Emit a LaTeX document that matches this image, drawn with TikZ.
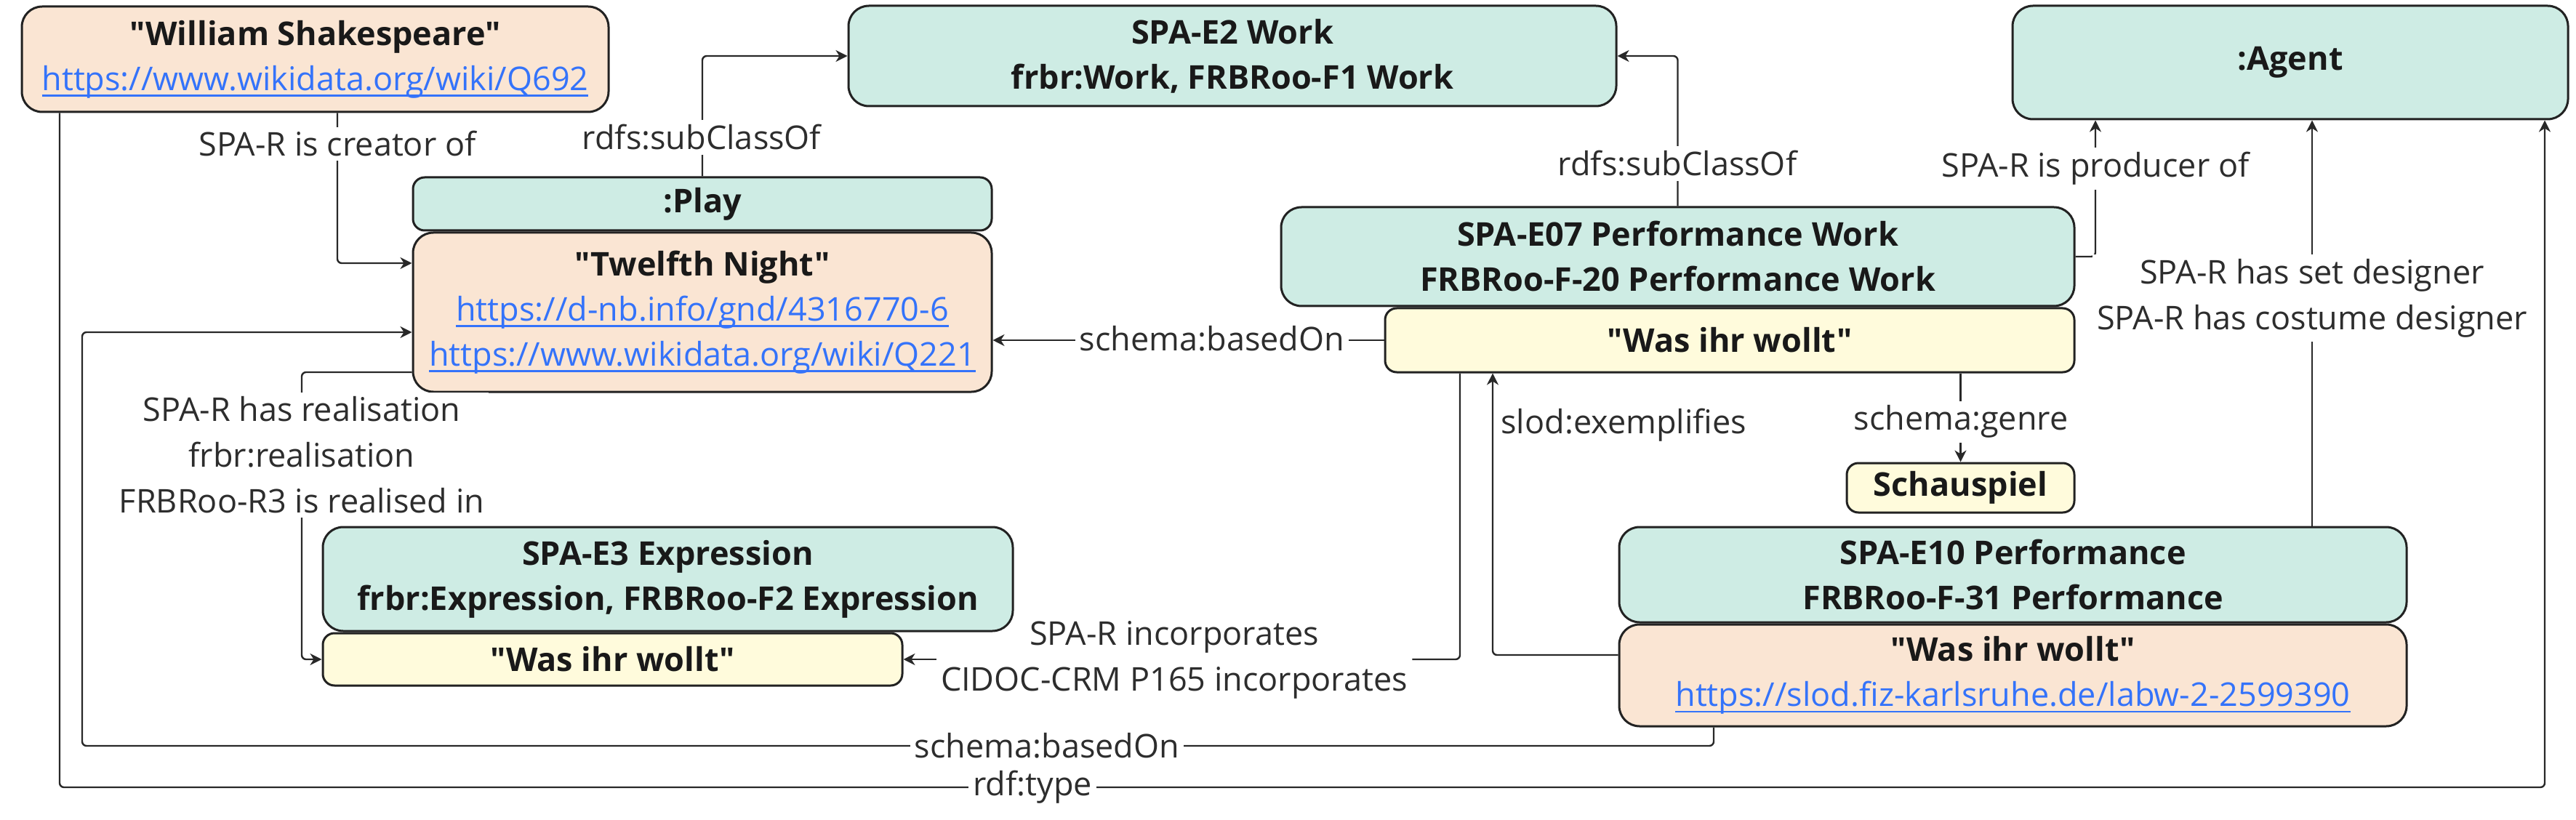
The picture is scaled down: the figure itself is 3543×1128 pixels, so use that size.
\documentclass[tikz,border=0pt]{standalone}
\usepackage{fontspec}
\setmainfont{Open Sans}[Ligatures=TeXOff]
\usetikzlibrary{arrows.meta}
\definecolor{boxteal}{RGB}{206,236,228}
\definecolor{boxpeach}{RGB}{250,229,211}
\definecolor{boxyellow}{RGB}{255,251,220}
\definecolor{boxline}{RGB}{34,34,34}
\definecolor{linegray}{RGB}{40,40,40}
\definecolor{labelgray}{RGB}{45,45,45}
\definecolor{textdark}{RGB}{25,25,25}
\definecolor{linkblue}{RGB}{52,115,250}
\newsavebox{\lnkbox}
\newcommand{\lnk}[1]{{\mdseries\color{linkblue}\sbox{\lnkbox}{#1}\rlap{\rule[-4.4pt]{\wd\lnkbox}{1.4pt}}\usebox{\lnkbox}}}
\newcommand{\bxf}{\fontsize{22.5}{31}\selectfont\bfseries}
\newcommand{\lbf}{\fontsize{22.5}{31.5}\selectfont}
\tikzset{
  box/.style={draw=boxline, line width=1.5pt, rounded corners=14pt, inner sep=0pt, align=center, font=\bxf, text=textdark},
  sz/.style 2 args={minimum width=#1*0.5pt, minimum height=#2*0.5pt},
  cls/.style={box, fill=boxteal},
  inst/.style={box, fill=boxpeach},
  lit/.style={box, fill=boxyellow, rounded corners=8pt},
  arr/.style={draw=linegray, line width=1.2pt, rounded corners=3pt, -{Stealth[length=8pt,width=8pt,inset=2.5pt]}},
  plainline/.style={draw=linegray, line width=1.2pt, rounded corners=3pt},
  lbl/.style={fill=white, inner sep=3pt, align=center, text=labelgray, font=\lbf}
}
\begin{document}
\begin{tikzpicture}[x=0.5pt,y=-0.5pt]
\useasboundingbox (0,0) rectangle (3543,1128);
\fill[white] (0,0) rectangle (3543,1128);

% boxes
\node[inst, sz={807}{145}] (shak) at (433.5,81.5) {"William Shakespeare"\\\lnk{https://www.wikidata.org/wiki/Q692}};
\node[cls, sz={1056}{138}] (e2) at (1695,77) {SPA-E2 Work\\frbr:Work, FRBRoo-F1 Work};
\node[cls, sz={764}{156}] (agent) at (3150,86) {:Agent};
\node[cls, rounded corners=8pt, sz={796}{73}] (play) at (966,280.5) {:Play};
\node[inst, sz={796}{219}] (twelfth) at (966,429.5) {"Twelfth Night"\\\lnk{https://d-nb.info/gnd/4316770-6}\\\lnk{https://www.wikidata.org/wiki/Q221}};
\node[cls, sz={1091}{136}] (e07) at (2307.5,353) {SPA-E07 Performance Work\\FRBRoo-F-20 Performance Work};
\node[lit, sz={948}{88}] (wase07) at (2379,468) {"Was ihr wollt"};
\node[lit, sz={313}{68}] (schau) at (2696.5,671) {Schauspiel};
\node[cls, sz={1083}{131}] (e10) at (2768.5,790.5) {SPA-E10 Performance\\FRBRoo-F-31 Performance};
\node[inst, sz={1083}{140}] (wase10) at (2768.5,929) {"Was ihr wollt"\\\lnk{https://slod.fiz-karlsruhe.de/labw-2-2599390}};
\node[cls, sz={949}{143}] (e3) at (918.5,796.5) {SPA-E3 Expression\\frbr:Expression, FRBRoo-F2 Expression};
\node[lit, sz={797}{72}] (wase3) at (842.5,907) {"Was ihr wollt"};

% bend coordinates
\coordinate (cCre) at (464,362);
\coordinate (cProd) at (2882,352);
\coordinate (cSet) at (3180,0);
\coordinate (cRdfA) at (82,1083);
\coordinate (cRdfB) at (3500,1083);
\coordinate (cBasA) at (2357,1026);
\coordinate (cBasB) at (113,1026);
\coordinate (cBasC) at (0,457);
\coordinate (cExA) at (2053,901);
\coordinate (cInc) at (2008,907);
\coordinate (cReal) at (415,512);

% labels (white boxes interrupt the connectors)
\node[lbl, fill=none] (linc) at (1615,908) {SPA-R incorporates\\CIDOC-CRM P165 incorporates};

% connectors
\draw[arr] (shak.south -| cCre) |- (twelfth.west |- cCre);
\draw[arr] (play.north) |- (e2.west);
\draw[arr] (e07.north) |- (e2.east);
\draw[arr] (e07.east) -| (agent.south -| cProd);
\draw[arr] (e10.north -| cSet) -- (agent.south -| cSet);
\draw[arr] (shak.south -| cRdfA) |- (cRdfB) -- (agent.south -| cRdfB);
\draw[arr] (wase10.south -| cBasA) |- (cBasB) |- (twelfth.west |- cBasC);
\draw[arr] (wase07.west) -- (twelfth.east |- wase07.west);
\draw[arr] (wase07.south -| schau.north) -- (schau.north);
\draw[arr] (wase10.west |- cExA) -| (wase07.south -| cExA);
\draw[plainline] (wase07.south -| cInc) |- (linc.east |- cInc);
\draw[arr] (linc.west |- wase3.east) -- (wase3.east);
\draw[arr] (twelfth.west |- cReal) -| (cReal |- wase3.west) -- (wase3.west);

\node[lbl] (lcre) at (464,198) {SPA-R is creator of};
\node[lbl] (lsub1) at (965,189) {rdfs:subClassOf};
\node[lbl] (lsub2) at (2307,225) {rdfs:subClassOf};
\node[lbl] (lprod) at (2882,232) {SPA-R is producer of};
\node[lbl] (lset) at (3180,410) {SPA-R has set designer\\SPA-R has costume designer};
\node[lbl] (lrdf) at (1420,1083) {rdf:type};
\node[lbl] (lbas2) at (1440,1026) {schema:basedOn};
\node[lbl] (lbas1) at (1667,466) {schema:basedOn};
\node[lbl] (lgenre) at (2697,580) {schema:genre};
\node[lbl, fill=none, anchor=west] (lexem) at (2058,585) {slod:exemplifies};
\node[lbl] (lreal) at (415,626) {SPA-R has realisation\\frbr:realisation\\FRBRoo-R3 is realised in};
\end{tikzpicture}
\end{document}
